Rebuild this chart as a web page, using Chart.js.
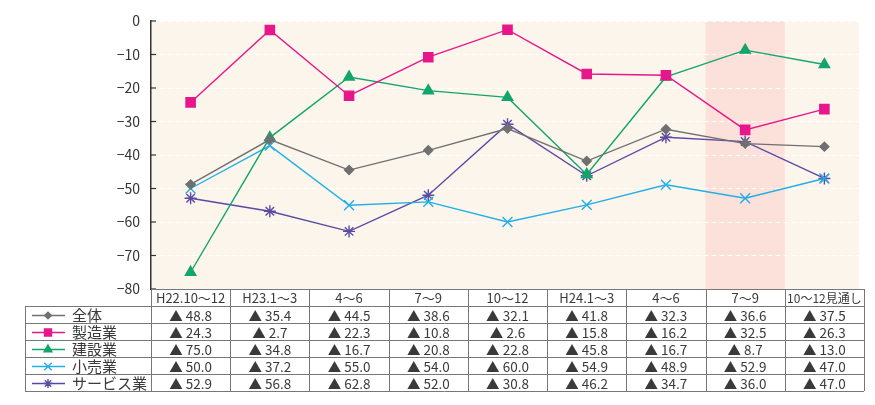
<!DOCTYPE html>
<html lang="ja">
<head>
<meta charset="utf-8">
<script src="https://cdn.jsdelivr.net/npm/chart.js@4.4.0/dist/chart.umd.min.js"></script>
<style>
  body { margin: 0; background: #fff; }
  .wrap { position: relative; width: 875px; height: 405px; }
</style>
</head>
<body>
<div class="wrap"><canvas id="chart"></canvas></div>
<script>
const periods = ['H22.10～12', 'H23.1～3', '4～6', '7～9', '10～12', 'H24.1～3', '4～6', '7～9', '10～12見通し'];
const seriesNames = ['全体', '製造業', '建設業', '小売業', 'サービス業'];

const allIndustries = [-48.8, -35.4, -44.5, -38.6, -32.1, -41.8, -32.3, -36.6, -37.5];
const manufacturing = [-24.3, -2.7, -22.3, -10.8, -2.6, -15.8, -16.2, -32.5, -26.3];
const construction = [-75.0, -34.8, -16.7, -20.8, -22.8, -45.8, -16.7, -8.7, -13.0];
const retail = [-50.0, -37.2, -55.0, -54.0, -60.0, -54.9, -48.9, -52.9, -47.0];
const services = [-52.9, -56.8, -62.8, -52.0, -30.8, -46.2, -34.7, -36.0, -47.0];

const highlightIndex = 7;
const FONT = '"Noto Sans CJK JP", "Noto Sans", sans-serif';

const seriesStyles = [
    { color: '#707070', point: 'rectRot', radius: 4.5 },
    { color: '#e8168b', point: 'rect', radius: 6.5 },
    { color: '#12a56c', point: 'triangle', radius: 6 },
    { color: '#22aee6', point: 'crossRot', radius: 7 },
    { color: '#5a4aa3', point: 'star', radius: 6 },
];
const seriesData = [allIndustries, manufacturing, construction, retail, services];

const datasets = seriesNames.map((name, i) => ({
    label: name,
    data: seriesData[i],
    borderColor: seriesStyles[i].color,
    backgroundColor: seriesStyles[i].color,
    borderWidth: 1.4,
    pointStyle: seriesStyles[i].point,
    pointRadius: seriesStyles[i].radius,
    pointBorderWidth: 1.4,
    tension: 0,
}));

// plot background + highlighted quarter
const bgPlugin = {
    id: 'plotBg',
    beforeDraw(chart) {
        const { ctx, chartArea } = chart;
        const x = chart.scales.x;
        const colW = x.width / periods.length;
        ctx.save();
        ctx.fillStyle = '#fcf5ec';
        ctx.fillRect(chartArea.left, chartArea.top, chartArea.right - chartArea.left - 5, chartArea.bottom - chartArea.top);
        ctx.fillStyle = '#fbe1da';
        const cx = x.getPixelForValue(highlightIndex);
        ctx.fillRect(cx - colW / 2, chartArea.top, colW, chartArea.bottom - chartArea.top);
        ctx.restore();
    },
};

// inward ticks on y axis, and the data table under the plot
const tablePlugin = {
    id: 'dataTable',
    afterDraw(chart) {
        const { ctx, chartArea } = chart;
        const x = chart.scales.x;
        const y = chart.scales.y;
        const colW = x.width / periods.length;
        const rowH = 17;
        const top = chartArea.bottom;
        const tableLeft = 25;
        const right = x.right;

        ctx.save();
        ctx.strokeStyle = '#333';
        ctx.lineWidth = 1.2;
        y.ticks.forEach(t => {
            const py = y.getPixelForValue(t.value);
            ctx.beginPath();
            ctx.moveTo(chartArea.left, py);
            ctx.lineTo(chartArea.left + 5, py);
            ctx.stroke();
        });

        // grid lines
        ctx.strokeStyle = '#777';
        ctx.lineWidth = 1;
        const rows = seriesNames.length;
        for (let r = 0; r <= rows + 1; r++) {
            const py = top + r * rowH + 0.5;
            ctx.beginPath();
            ctx.moveTo(r === 0 ? chartArea.left : tableLeft, py);
            ctx.lineTo(right, py);
            ctx.stroke();
        }
        for (let c = 0; c <= periods.length; c++) {
            const px = Math.round(x.left + c * colW) + 0.5;
            ctx.beginPath();
            ctx.moveTo(px, top);
            ctx.lineTo(px, top + (rows + 1) * rowH);
            ctx.stroke();
        }
        ctx.beginPath();
        ctx.moveTo(tableLeft + 0.5, top + rowH);
        ctx.lineTo(tableLeft + 0.5, top + (rows + 1) * rowH);
        ctx.stroke();

        // header
        ctx.fillStyle = '#3a3a3a';
        ctx.textBaseline = 'middle';
        ctx.textAlign = 'center';
        periods.forEach((p, i) => {
            let size = 13;
            ctx.font = size + 'px ' + FONT;
            while (ctx.measureText(p).width > colW - 3 && size > 9) {
                size -= 0.5;
                ctx.font = size + 'px ' + FONT;
            }
            ctx.fillText(p, x.getPixelForValue(i), top + rowH / 2 + 1);
        });

        // rows
        seriesNames.forEach((name, r) => {
            const cy = top + (r + 1) * rowH + rowH / 2 + 1;
            const st = seriesStyles[r];
            ctx.strokeStyle = st.color;
            ctx.lineWidth = 1.4;
            ctx.beginPath();
            ctx.moveTo(32, cy);
            ctx.lineTo(65, cy);
            ctx.stroke();
            ctx.fillStyle = st.color;
            Chart.helpers.drawPoint(ctx, {
                pointStyle: st.point,
                radius: st.radius * 0.75,
                borderWidth: 1.2,
                rotation: 0,
            }, 48, cy);
            ctx.fill();

            ctx.fillStyle = '#3a3a3a';
            ctx.textAlign = 'left';
            ctx.font = '15px ' + FONT;
            ctx.fillText(name, 72, cy);

            ctx.textAlign = 'center';
            ctx.font = '13.5px ' + FONT;
            seriesData[r].forEach((v, i) => {
                ctx.fillText('▲ ' + Math.abs(v).toFixed(1), x.getPixelForValue(i), cy);
            });
        });
        ctx.restore();
    },
};

new Chart(document.getElementById('chart'), {
    type: 'line',
    data: { labels: periods, datasets: datasets },
    options: {
        responsive: true,
        maintainAspectRatio: false,
        animation: false,
        layout: { padding: { top: 21, right: 11, bottom: 116, left: 0 } },
        plugins: {
            legend: { display: false },
            tooltip: { enabled: false },
        },
        scales: {
            x: {
                type: 'category',
                offset: true,
                display: false,
            },
            y: {
                min: -80,
                max: 0,
                afterFit: (scale) => { scale.width = 151; },
                ticks: {
                    stepSize: 10,
                    padding: 11,
                    color: '#333',
                    font: { family: FONT, size: 14 },
                    callback: (v) => String(v).replace('-', '−'),
                },
                grid: { color: '#ffffff', lineWidth: 1, drawTicks: false },
                border: { display: true, color: '#333', width: 1.5, dash: [5, 3] },
            },
        },
    },
    plugins: [bgPlugin, tablePlugin],
});
</script>
</body>
</html>
